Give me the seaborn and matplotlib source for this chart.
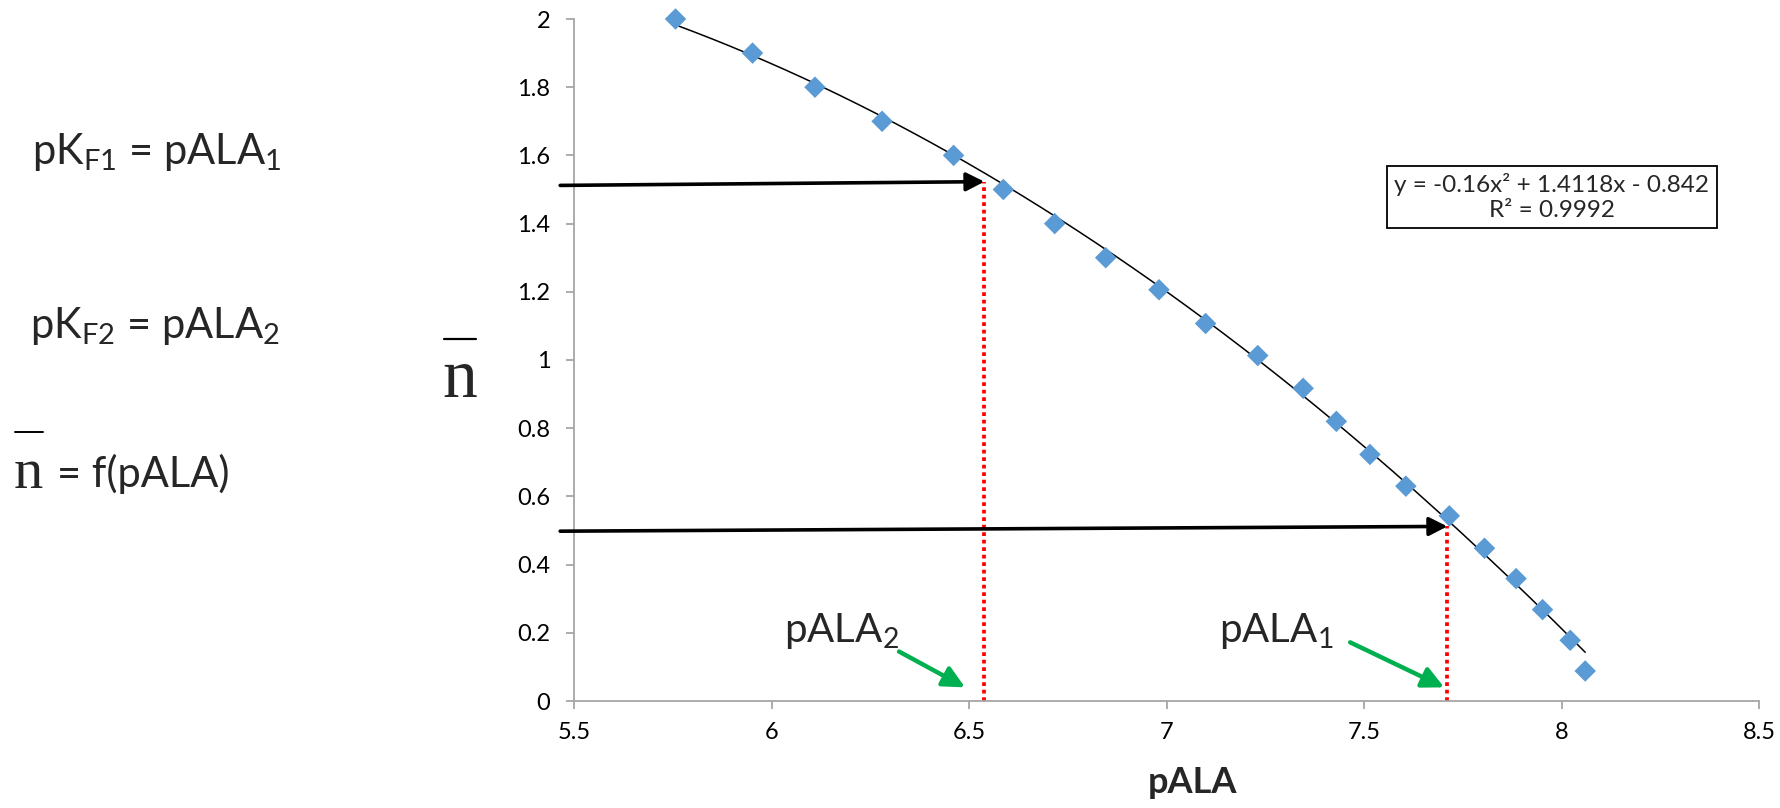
import numpy as np
import matplotlib
matplotlib.use("Agg")
import matplotlib.pyplot as plt
import seaborn as sns
from matplotlib.lines import Line2D
from matplotlib.ticker import FuncFormatter

# measured points (pALA vs n-bar)
p_ala = [5.757, 5.952, 6.110, 6.280, 6.461, 6.587, 6.717, 6.846, 6.981, 7.099,
         7.231, 7.346, 7.430, 7.515, 7.606, 7.716, 7.805, 7.885, 7.952, 8.022, 8.060]
n_bar = [2.0, 1.9, 1.8, 1.7, 1.6, 1.5, 1.4, 1.3, 1.206, 1.107,
         1.013, 0.917, 0.820, 0.723, 0.630, 0.543, 0.448, 0.359, 0.268, 0.178, 0.088]

# quadratic trendline, as printed in the box
trend_coef = [-0.16, 1.4118, -0.842]
trend_text = "y = -0.16x² + 1.4118x - 0.842\nR² = 0.9992"

# read-off marks: n-bar = 1.5 -> pALA2, n-bar = 0.5 -> pALA1
mark_names = ["pALA$_2$", "pALA$_1$"]
mark_x = [6.539, 7.711]
arrow_y0 = [1.512, 0.498]
arrow_y1 = [1.523, 0.512]
label_x = [6.032, 7.133]
label_y = [0.174, 0.174]
green_from = [(6.323, 0.145), (7.465, 0.172)]
green_to = [(6.490, 0.040), (7.703, 0.040)]

x_ticks = [5.5, 6, 6.5, 7, 7.5, 8, 8.5]
y_ticks = [0, 0.2, 0.4, 0.6, 0.8, 1, 1.2, 1.4, 1.6, 1.8, 2]

W, H = 1780, 808

sns.set_style("ticks")
plt.rcParams["font.family"] = ["Lato", "DejaVu Sans"]
plt.rcParams["mathtext.fontset"] = "custom"
plt.rcParams["mathtext.rm"] = "Lato"
plt.rcParams["mathtext.it"] = "Lato:italic"
plt.rcParams["mathtext.bf"] = "Lato:bold"

fig = plt.figure(figsize=(W / 100, H / 100), dpi=100)
ax = fig.add_axes([574 / W, 1 - 701 / H, (1759 - 574) / W, (701 - 19) / H])

# trendline over the data range
xs = np.linspace(min(p_ala), max(p_ala), 200)
ys = np.polyval(trend_coef, xs)
sns.lineplot(x=xs, y=ys, color="black", lw=1.1, ax=ax, zorder=2)
sns.scatterplot(x=p_ala, y=n_bar, marker="D", s=120, color="#5B9BD5",
                edgecolor="none", linewidth=0, ax=ax, zorder=3, clip_on=False)

ax.set_xlim(5.5, 8.5)
ax.set_ylim(0, 2)
ax.set_xticks(x_ticks)
ax.set_yticks(y_ticks)
fmt = FuncFormatter(lambda v, p: f"{v:g}")
ax.xaxis.set_major_formatter(fmt)
ax.yaxis.set_major_formatter(fmt)
sns.despine(ax=ax)
for s in ["left", "bottom"]:
    ax.spines[s].set_color("#A6A6A6")
    ax.spines[s].set_linewidth(1.3)
ax.tick_params(axis="both", direction="out", length=6, width=1.3,
               color="#A6A6A6", labelsize=17, labelcolor="black")
ax.tick_params(axis="y", pad=11)
ax.tick_params(axis="x", pad=9)
ax.set_xlabel("pALA", fontsize=26, fontweight="bold")
ax.xaxis.set_label_coords(0.522, -0.095)

# red dotted drops and black read-off arrows
for i in range(2):
    ax.plot([mark_x[i], mark_x[i]], [0, arrow_y1[i]], color="red", lw=2.7,
            ls=(0, (1, 1)), zorder=1)
    ax.annotate("", xy=(mark_x[i], arrow_y1[i]), xytext=(5.465, arrow_y0[i]),
                annotation_clip=False,
                arrowprops=dict(arrowstyle="-|>,head_length=0.55,head_width=0.28",
                                mutation_scale=20, color="black", lw=2.6,
                                shrinkA=0, shrinkB=0))
    ax.text(label_x[i], label_y[i], mark_names[i], fontsize=29, va="baseline")
    ax.annotate("", xy=green_to[i], xytext=green_from[i],
                arrowprops=dict(arrowstyle="-|>,head_length=0.65,head_width=0.32",
                                mutation_scale=20, color="#00B050", lw=3.2,
                                shrinkA=0, shrinkB=0))

# equation box
fig.text(1552 / W, 1 - 197 / H, trend_text, ha="center", va="center",
         multialignment="center", fontsize=17.5, linespacing=1.25,
         bbox=dict(boxstyle="square,pad=0.3", fc="white", ec="black", lw=1.3))

# y label: n with overbar
fig.text(460 / W, 1 - 397 / H, "n", family="Liberation Serif", fontsize=50,
         ha="center", va="baseline")
fig.add_artist(Line2D([444 / W, 476 / W], [1 - 339 / H, 1 - 339 / H],
                      color="black", lw=1.6))

# left-hand relations
fig.text(32 / W, 1 - 164 / H, r"pK$_{\mathrm{F1}}$ = pALA$_1$", fontsize=30,
         va="baseline")
fig.text(30 / W, 1 - 338 / H, r"pK$_{\mathrm{F2}}$ = pALA$_2$", fontsize=30,
         va="baseline")
fig.text(14 / W, 1 - 488 / H, "n", family="Liberation Serif", fontsize=42,
         va="baseline")
fig.add_artist(Line2D([15 / W, 43 / W], [1 - 432 / H, 1 - 432 / H],
                      color="black", lw=1.4))
fig.text(57 / W, 1 - 487 / H, "= f(pALA)", fontsize=30, va="baseline")

fig.savefig("out.png", dpi=100)
